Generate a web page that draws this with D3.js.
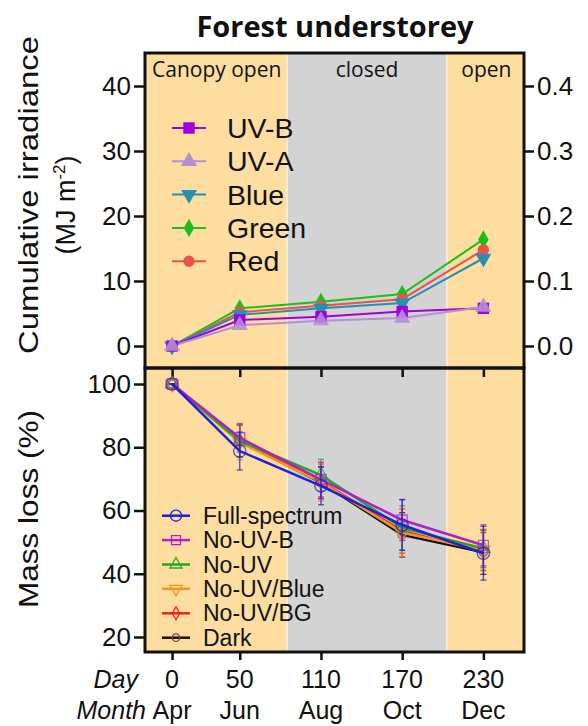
<!DOCTYPE html>
<html>
<head>
<meta charset="utf-8">
<script src="https://cdn.jsdelivr.net/npm/d3@7"></script>
<style>
  body { margin: 0; background: #fff; }
  svg text { font-family: "Liberation Sans", Arial, sans-serif; fill: #111; }
</style>
</head>
<body>
<svg id="chart" width="588" height="726"></svg>
<script>
// data
const days = [0, 50, 110, 170, 230];
const months = ["Apr", "Jun", "Aug", "Oct", "Dec"];

// cumulative irradiance (MJ m-2), UV-B on right axis
const uvB = [0, 0.040, 0.045, 0.053, 0.058];
const uvA = [0, 3.2, 3.9, 4.3, 6.0];
const blueLight = [0, 4.8, 5.8, 6.6, 13.5];
const greenLight = [0, 5.8, 6.8, 8.0, 16.4];
const redLight = [0, 5.2, 6.2, 7.2, 14.8];

// mass loss (%) and errors
const fullSpectrum = [100, 78.8, 67.8, 55.4, 46.5];
const fullSpectrumErr = [0, 6, 6, 8, 8.5];
const noUVB = [100, 83.0, 69.8, 57.0, 49.0];
const noUVBErr = [0, 4.5, 5.5, 6.5, 6.5];
const noUV = [100, 82.0, 71.2, 54.5, 48.0];
const noUVErr = [0, 5, 5, 7, 6];
const noUVBlue = [100, 81.5, 69.0, 53.0, 47.5];
const noUVBlueErr = [0, 5.5, 6, 7.5, 6];
const noUVBG = [100, 82.0, 69.2, 53.5, 47.0];
const noUVBGErr = [0, 5, 5.5, 7, 6];
const dark = [100, 82.0, 68.8, 52.3, 46.8];
const darkErr = [0, 5, 5, 7, 7];

// canopy periods (day)
const periods = [
    {from: -20, to: 85, label: "Canopy open", fill: "#fddea0"},
    {from: 85, to: 203, label: "closed", fill: "#d3d3d3"},
    {from: 203, to: 260, label: "open", fill: "#fddea0"}
];

const svg = d3.select("#chart");
const L = 145, R = 524, T = 53, MID = 368, B = 652;

const x = d3.scaleLinear().domain([-20, 260]).range([L, R]);
const yTop = d3.scaleLinear().domain([0, 40]).range([346, 86]);
const yTopR = d3.scaleLinear().domain([0, 0.4]).range([346, 86]);
const yBot = d3.scaleLinear().domain([20, 100]).range([637, 384]);

// backgrounds
svg.selectAll("rect.band").data(periods).enter().append("rect")
    .attr("x", d => x(d.from)).attr("width", d => x(d.to) - x(d.from))
    .attr("y", T).attr("height", B - T)
    .attr("fill", d => d.fill);
// thin light seams between periods
svg.selectAll("line.seam").data([85, 203]).enter().append("line")
    .attr("x1", d => x(d)).attr("x2", d => x(d)).attr("y1", T).attr("y2", B)
    .attr("stroke", "#fbeed6").attr("stroke-width", 1.5);

svg.selectAll("text.band").data(periods).enter().append("text")
    .attr("x", (d, i) => i == 0 ? x(d.from) + 7 : (x(d.from) + x(d.to)) / 2 + (i == 2 ? 1 : 0))
    .attr("y", 77)
    .attr("text-anchor", (d, i) => i == 0 ? "start" : "middle")
    .style("font-family", "'Open Sans', sans-serif").style("font-size", "21px")
    .text(d => d.label);

// title
svg.append("text").attr("x", 335).attr("y", 37).attr("text-anchor", "middle")
    .style("font-family", "'Open Sans', sans-serif").style("font-weight", "bold").style("font-size", "29px")
    .text("Forest understorey");

// axes
function styleAxis(g){
    g.select(".domain").remove();
    g.selectAll("line").attr("stroke", "#111").attr("stroke-width", 2.5);
    g.selectAll("text").style("font-size", "26px").style("fill", "#111");
}
svg.append("g").attr("transform", `translate(${L},0)`)
    .call(d3.axisLeft(yTop).tickValues([0, 10, 20, 30, 40]).tickSize(11).tickPadding(3))
    .call(styleAxis);
svg.append("g").attr("transform", `translate(${R},0)`)
    .call(d3.axisRight(yTopR).tickValues([0, 0.1, 0.2, 0.3, 0.4]).tickFormat(d3.format(".1f")).tickSize(10).tickPadding(3))
    .call(styleAxis);
svg.append("g").attr("transform", `translate(${L},0)`)
    .call(d3.axisLeft(yBot).tickValues([20, 40, 60, 80, 100]).tickSize(11).tickPadding(3))
    .call(styleAxis);
svg.append("g").attr("transform", `translate(0,${MID})`)
    .call(d3.axisBottom(x).tickValues(days).tickSize(9).tickFormat(""))
    .call(styleAxis);
svg.append("g").attr("transform", `translate(0,${B})`)
    .call(d3.axisBottom(x).tickValues(days).tickSize(8).tickFormat(""))
    .call(styleAxis);

// day / month labels
svg.selectAll("text.day").data(days).enter().append("text")
    .attr("x", d => x(d)).attr("y", 688).attr("text-anchor", "middle")
    .style("font-size", "25px").text(d => d);
svg.selectAll("text.month").data(months).enter().append("text")
    .attr("x", (d, i) => x(days[i])).attr("y", 719).attr("text-anchor", "middle")
    .style("font-size", "25px").text(d => d);
svg.append("text").attr("x", 138).attr("y", 688).attr("text-anchor", "end")
    .style("font-size", "25px").style("font-style", "italic").text("Day");
svg.append("text").attr("x", 146).attr("y", 719).attr("text-anchor", "end")
    .style("font-size", "25px").style("font-style", "italic").text("Month");

// y titles
svg.append("text").attr("transform", "translate(38,195) rotate(-90)").attr("text-anchor", "middle")
    .attr("textLength", 318).attr("lengthAdjust", "spacingAndGlyphs")
    .style("font-size", "27px").text("Cumulative irradiance");
const mj = svg.append("text").attr("transform", "translate(75,205) rotate(-90)").attr("text-anchor", "middle")
    .style("font-size", "27px");
mj.append("tspan").text("(MJ m");
mj.append("tspan").attr("dy", -10).style("font-size", "17px").text("-2");
mj.append("tspan").attr("dy", 10).text(")");
svg.append("text").attr("transform", "translate(38,509) rotate(-90)").attr("text-anchor", "middle")
    .attr("textLength", 198).attr("lengthAdjust", "spacingAndGlyphs")
    .style("font-size", "27px").text("Mass loss (%)");

// top panel series
const topSeries = [
    {name: "UV-B", values: uvB, scale: yTopR, color: "#a000dc", symbol: d3.symbolSquare, size: 130},
    {name: "UV-A", values: uvA, scale: yTop, color: "#b48fd6", symbol: d3.symbolTriangle, size: 115},
    {name: "Blue", values: blueLight, scale: yTop, color: "#2a8fae", symbol: d3.symbolTriangle, size: 110, flip: true},
    {name: "Green", values: greenLight, scale: yTop, color: "#18c018", symbol: d3.symbolDiamond, size: 95},
    {name: "Red", values: redLight, scale: yTop, color: "#f0504a", symbol: d3.symbolCircle, size: 100}
];
const drawOrder = [3, 4, 2, 0, 1];
drawOrder.forEach(k => {
    const s = topSeries[k];
    const line = d3.line().x((d, i) => x(days[i])).y(d => s.scale(d));
    svg.append("path").datum(s.values).attr("d", line)
        .attr("fill", "none").attr("stroke", s.color).attr("stroke-width", 2);
});
drawOrder.forEach(k => {
    const s = topSeries[k];
    svg.selectAll(null).data(s.values).enter().append("path")
        .attr("d", d3.symbol(s.symbol, s.size))
        .attr("transform", (d, i) => `translate(${x(days[i])},${s.scale(d)})` + (s.flip ? " rotate(180)" : ""))
        .attr("fill", s.color).attr("opacity", k == 1 ? 0.9 : 1);
});
// top legend
topSeries.forEach((s, i) => {
    const yy = 128 + i * 33.3;
    svg.append("line").attr("x1", 172).attr("x2", 206).attr("y1", yy).attr("y2", yy)
        .attr("stroke", s.color).attr("stroke-width", 2);
    svg.append("path").attr("d", d3.symbol(s.symbol, s.size))
        .attr("transform", `translate(189,${yy})` + (s.flip ? " rotate(180)" : ""))
        .attr("fill", s.color);
    svg.append("text").attr("x", 227).attr("y", yy + 10).style("font-size", "28.5px").text(s.name);
});

// bottom panel series
const botSeries = [
    {name: "Full-spectrum", values: fullSpectrum, err: fullSpectrumErr, color: "#2020d8", symbol: d3.symbolCircle, size: 120},
    {name: "No-UV-B", values: noUVB, err: noUVBErr, color: "#b020c8", symbol: d3.symbolSquare, size: 100},
    {name: "No-UV", values: noUV, err: noUVErr, color: "#22aa22", symbol: d3.symbolTriangle, size: 80},
    {name: "No-UV/Blue", values: noUVBlue, err: noUVBlueErr, color: "#f5951f", symbol: d3.symbolTriangle, size: 80, flip: true},
    {name: "No-UV/BG", values: noUVBG, err: noUVBGErr, color: "#ee2222", symbol: d3.symbolDiamond, size: 60},
    {name: "Dark", values: dark, err: darkErr, color: "#111111", symbol: d3.symbolCircle, size: 55, mark: "#7a4a3a"}
];
[5, 4, 3, 2, 1, 0].forEach(k => {
    const s = botSeries[k];
    const line = d3.line().x((d, i) => x(days[i])).y(d => yBot(d));
    svg.append("path").datum(s.values).attr("d", line)
        .attr("fill", "none").attr("stroke", s.color).attr("stroke-width", 2.5);
    const eb = svg.selectAll(null).data(s.values).enter().append("g")
        .attr("transform", (d, i) => `translate(${x(days[i])},0)`);
    eb.append("line").attr("y1", (d, i) => yBot(d + s.err[i])).attr("y2", (d, i) => yBot(d - s.err[i]))
        .attr("stroke", s.color).attr("stroke-width", 1.3).attr("opacity", 0.8);
    eb.append("line").attr("x1", -3).attr("x2", 3).attr("y1", (d, i) => yBot(d + s.err[i])).attr("y2", (d, i) => yBot(d + s.err[i]))
        .attr("stroke", s.color).attr("stroke-width", 1.3).attr("opacity", 0.8);
    eb.append("line").attr("x1", -3).attr("x2", 3).attr("y1", (d, i) => yBot(d - s.err[i])).attr("y2", (d, i) => yBot(d - s.err[i]))
        .attr("stroke", s.color).attr("stroke-width", 1.3).attr("opacity", 0.8);
    svg.selectAll(null).data(s.values).enter().append("path")
        .attr("d", d3.symbol(s.symbol, s.size))
        .attr("transform", (d, i) => `translate(${x(days[i])},${yBot(d)})` + (s.flip ? " rotate(180)" : ""))
        .attr("fill", "none").attr("stroke", s.mark || s.color).attr("stroke-width", 1.3).attr("opacity", 0.75);
});
// bottom legend
botSeries.forEach((s, i) => {
    const yy = 515.7 + i * 24.4;
    svg.append("line").attr("x1", 162).attr("x2", 190).attr("y1", yy).attr("y2", yy)
        .attr("stroke", s.color).attr("stroke-width", 2.5);
    svg.append("path").attr("d", d3.symbol(s.symbol, s.size * 0.8))
        .attr("transform", `translate(176,${yy})` + (s.flip ? " rotate(180)" : ""))
        .attr("fill", "none").attr("stroke", s.mark || s.color).attr("stroke-width", 1.3);
    svg.append("text").attr("x", 203).attr("y", yy + 8).style("font-size", "23px").text(s.name);
});

// frames
svg.append("rect").attr("x", L).attr("y", T).attr("width", R - L).attr("height", MID - T)
    .attr("fill", "none").attr("stroke", "#111").attr("stroke-width", 3);
svg.append("rect").attr("x", L).attr("y", MID).attr("width", R - L).attr("height", B - MID)
    .attr("fill", "none").attr("stroke", "#111").attr("stroke-width", 3);
</script>
</body>
</html>
